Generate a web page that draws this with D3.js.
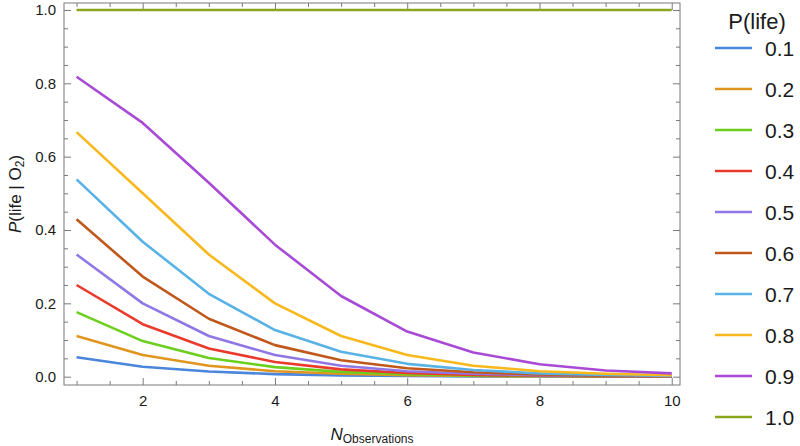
<!DOCTYPE html>
<html>
<head>
<meta charset="utf-8">
<script src="https://cdn.jsdelivr.net/npm/d3@7"></script>
<style>
  body { margin: 0; background: #fff; }
  svg { font-family: "Liberation Sans", Arial, sans-serif; }
</style>
</head>
<body>
<div id="chart"></div>
<script>
// Data
const observations = [1, 2, 3, 4, 5, 6, 7, 8, 9, 10];
const priors = ["0.1", "0.2", "0.3", "0.4", "0.5", "0.6", "0.7", "0.8", "0.9", "1.0"];
const p01 = [0.053, 0.027, 0.014, 0.007, 0.0035, 0.0017, 0.0009, 0.0004, 0.0002, 0.0001];
const p02 = [0.111, 0.059, 0.030, 0.015, 0.008, 0.004, 0.002, 0.001, 0.0005, 0.0002];
const p03 = [0.176, 0.097, 0.051, 0.026, 0.013, 0.007, 0.003, 0.0017, 0.0008, 0.0004];
const p04 = [0.250, 0.143, 0.077, 0.040, 0.020, 0.010, 0.005, 0.0026, 0.0013, 0.0007];
const p05 = [0.333, 0.200, 0.111, 0.059, 0.030, 0.015, 0.008, 0.004, 0.002, 0.001];
const p06 = [0.429, 0.273, 0.158, 0.086, 0.045, 0.023, 0.012, 0.006, 0.003, 0.0015];
const p07 = [0.538, 0.368, 0.226, 0.127, 0.068, 0.035, 0.018, 0.009, 0.0045, 0.0023];
const p08 = [0.667, 0.500, 0.333, 0.200, 0.111, 0.059, 0.030, 0.015, 0.008, 0.004];
const p09 = [0.818, 0.692, 0.529, 0.360, 0.220, 0.123, 0.066, 0.034, 0.017, 0.009];
const p10 = [1, 1, 1, 1, 1, 1, 1, 1, 1, 1];
const seriesValues = [p01, p02, p03, p04, p05, p06, p07, p08, p09, p10];
const colors = ["#4a86dc", "#e0951f", "#6ccf1e", "#ea3a2c", "#8f78e6",
                "#c0581c", "#58b2e6", "#f8b81c", "#a84ad6", "#8aa61c"];
const xMajor = [2, 4, 6, 8, 10];
const yMajor = [0, 0.2, 0.4, 0.6, 0.8, 1.0];

const W = 800, H = 446;
const plot = { left: 64, right: 680, top: 3, bottom: 385 };

const svg = d3.select("#chart").append("svg")
    .attr("width", W)
    .attr("height", H);

const x = d3.scaleLinear().domain([0.81, 10.125]).range([plot.left, plot.right]);
const y = d3.scaleLinear().domain([-0.0227, 1.019]).range([plot.bottom, plot.top]);

const xMinor = d3.range(1, 10.01, 0.5).filter(v => !xMajor.includes(v));
const yMinor = d3.range(0, 1.001, 0.05).map(v => +v.toFixed(2)).filter(v => !yMajor.some(m => Math.abs(m - v) < 1e-6));

const frameColor = "#7a7a7a";

function styleAxis(g) {
  g.select(".domain").remove();
  g.selectAll(".tick line").attr("stroke", frameColor).attr("stroke-width", 1);
  g.selectAll(".tick text").attr("fill", "#1a1a1a").style("font-size", "15px");
}

// bottom
svg.append("g").attr("transform", `translate(0,${plot.bottom})`)
  .call(d3.axisBottom(x).tickValues(xMajor).tickSize(-7).tickPadding(10).tickFormat(d3.format("d")))
  .call(styleAxis);
svg.append("g").attr("transform", `translate(0,${plot.bottom})`)
  .call(d3.axisBottom(x).tickValues(xMinor).tickSize(-4).tickFormat(""))
  .call(styleAxis);
// top
svg.append("g").attr("transform", `translate(0,${plot.top})`)
  .call(d3.axisTop(x).tickValues(xMajor).tickSize(-7).tickFormat(""))
  .call(styleAxis);
svg.append("g").attr("transform", `translate(0,${plot.top})`)
  .call(d3.axisTop(x).tickValues(xMinor).tickSize(-4).tickFormat(""))
  .call(styleAxis);
// left
svg.append("g").attr("transform", `translate(${plot.left},0)`)
  .call(d3.axisLeft(y).tickValues(yMajor).tickSize(-7).tickPadding(8).tickFormat(d3.format(".1f")))
  .call(styleAxis);
svg.append("g").attr("transform", `translate(${plot.left},0)`)
  .call(d3.axisLeft(y).tickValues(yMinor).tickSize(-4).tickFormat(""))
  .call(styleAxis);
// right
svg.append("g").attr("transform", `translate(${plot.right},0)`)
  .call(d3.axisRight(y).tickValues(yMajor).tickSize(-7).tickFormat(""))
  .call(styleAxis);
svg.append("g").attr("transform", `translate(${plot.right},0)`)
  .call(d3.axisRight(y).tickValues(yMinor).tickSize(-4).tickFormat(""))
  .call(styleAxis);

// frame
svg.append("rect")
  .attr("x", plot.left).attr("y", plot.top)
  .attr("width", plot.right - plot.left).attr("height", plot.bottom - plot.top)
  .attr("fill", "none").attr("stroke", frameColor).attr("stroke-width", 1);

// lines
const line = d3.line()
  .x((d, i) => x(observations[i]))
  .y(d => y(d));

svg.append("g").selectAll("path")
  .data(seriesValues)
  .join("path")
  .attr("d", d => line(d))
  .attr("fill", "none")
  .attr("stroke", (d, i) => colors[i])
  .attr("stroke-width", 2.6)
  .attr("stroke-linejoin", "round");

// axis labels
const xl = svg.append("text")
  .attr("x", (plot.left + plot.right) / 2)
  .attr("y", 440)
  .attr("text-anchor", "middle")
  .attr("fill", "#1a1a1a");
xl.append("tspan").attr("font-style", "italic").style("font-size", "17px").text("N");
xl.append("tspan").style("font-size", "12px").attr("dy", 3).text("Observations");

const yl = svg.append("text")
  .attr("transform", `translate(21,${(plot.top + plot.bottom) / 2}) rotate(-90)`)
  .attr("text-anchor", "middle")
  .attr("fill", "#1a1a1a")
  .style("font-size", "17px");
yl.append("tspan").attr("font-style", "italic").text("P");
yl.append("tspan").text("(life | O");
yl.append("tspan").style("font-size", "12px").attr("dy", 3).text("2");
yl.append("tspan").attr("dy", -3).text(")");

// legend
const legend = svg.append("g");
legend.append("text")
  .attr("x", 757).attr("y", 29)
  .attr("text-anchor", "middle")
  .attr("fill", "#1a1a1a")
  .style("font-size", "22px")
  .text("P(life)");

priors.forEach((p, i) => {
  const g = legend.append("g").attr("transform", `translate(0,${48 + i * 41})`);
  g.append("line")
    .attr("x1", 715).attr("x2", 752)
    .attr("stroke", colors[i]).attr("stroke-width", 2.6);
  g.append("text")
    .attr("x", 765).attr("y", 7.5)
    .attr("fill", "#1a1a1a")
    .style("font-size", "21px")
    .text(p);
});
</script>
</body>
</html>
